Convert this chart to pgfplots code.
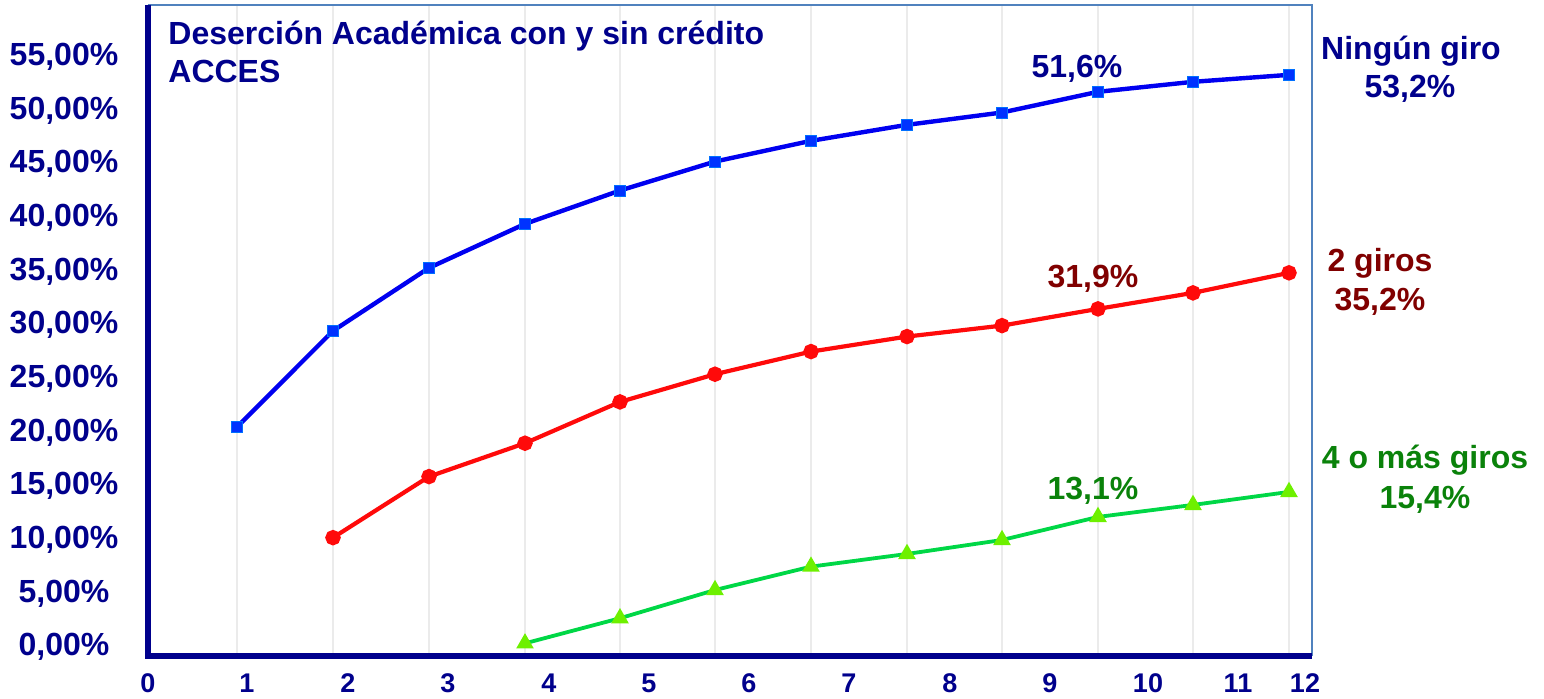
\documentclass[border=0pt]{standalone}
\usepackage{fontspec}
\setmainfont{Liberation Sans}
\usepackage{pgfplots}
\pgfplotsset{compat=1.18}
\definecolor{navytxt}{RGB}{0,0,140}
\definecolor{darkredtxt}{RGB}{128,0,0}
\definecolor{greentxt}{RGB}{10,130,10}
\definecolor{lineblue}{RGB}{0,0,240}
\definecolor{markblue}{RGB}{0,50,255}
\definecolor{linered}{RGB}{255,10,10}
\definecolor{linegreen}{RGB}{0,215,70}
\definecolor{markgreen}{RGB}{110,240,0}
\definecolor{framec}{RGB}{80,130,190}
\definecolor{gridc}{RGB}{235,235,235}

\pgfplotstableread{
x y
0.89 20.51
1.85 29.46
2.81 35.33
3.77 39.43
4.72 42.54
5.67 45.24
6.63 47.17
7.59 48.66
8.54 49.81
9.50 51.74
10.45 52.67
11.41 53.32
}\ningun

\pgfplotstableread{
x y
1.85 10.19
2.81 15.88
3.77 18.99
4.72 22.84
5.67 25.42
6.63 27.53
7.59 28.93
8.54 29.95
9.50 31.51
10.45 33.00
11.41 34.87
}\dosgiros

\pgfplotstableread{
x y
3.77 0.34
4.72 2.68
5.67 5.31
6.63 7.49
7.59 8.67
8.54 9.97
9.50 12.12
10.45 13.24
11.41 14.45
}\cuatrogiros

\begin{document}
\begin{tikzpicture}
\begin{axis}[
  scale only axis, width=582pt, height=325.5pt,
  xmin=0, xmax=11.64, ymin=-0.84, ymax=59.83,
  axis line style={draw=none},
  clip=false,
  xtick={0,0.99,2,3,4.01,5.01,6.01,7.01,8.02,9.02,10,10.9,11.57},
  xticklabels={0,1,2,3,4,5,6,7,8,9,10,11,12},
  ytick={0,5,10,15,20,25,30,35,40,45,50,55},
  yticklabels={{0,00\%},{5,00\%},{10,00\%},{15,00\%},{20,00\%},{25,00\%},{30,00\%},{35,00\%},{40,00\%},{45,00\%},{50,00\%},{55,00\%}},
  major tick length=0pt,
  yticklabel style={font=\fontsize{16pt}{19pt}\selectfont\bfseries, text=navytxt, anchor=center, xshift=-42pt},
  xticklabel style={font=\fontsize{13.5pt}{16pt}\selectfont\bfseries, text=navytxt, yshift=-5.5pt},
  extra x ticks={0.89,1.85,2.81,3.77,4.72,5.67,6.63,7.59,8.54,9.50,10.45,11.41},
  extra x tick labels={},
  extra x tick style={grid=major, major grid style={draw=gridc, line width=1.2pt}, major tick length=0pt},
]
\addplot[lineblue, line width=2.2pt, mark=square*, mark size=2.8pt, mark options={fill=markblue, draw=markblue!70!cyan, line width=0.4pt}] table[x=x,y=y] {\ningun};
\addplot[linered, line width=2.1pt, mark=*, mark size=2.8pt, mark options={fill=linered, draw=linered}] table[x=x,y=y] {\dosgiros};
\addplot[linegreen, line width=1.9pt, mark=triangle*, mark size=3.2pt, mark options={fill=markgreen, draw=markgreen}] table[x=x,y=y] {\cuatrogiros};

\draw[framec, line width=0.8pt] (rel axis cs:0,1) -- (rel axis cs:1,1) -- (rel axis cs:1,0);
\draw[navytxt, line width=2.6pt] (rel axis cs:0,1) -- (rel axis cs:0,0) -- (rel axis cs:1,0);

\begin{scope}[every node/.style={font=\fontsize{16pt}{19pt}\selectfont\bfseries, inner sep=0pt}]
\node[anchor=base west, text=navytxt] at (axis cs:0.2,56.12) {Deserción Académica con y sin crédito};
\node[anchor=base west, text=navytxt] at (axis cs:0.2,52.58) {ACCES};
\node[anchor=base, text=navytxt] at (axis cs:9.29,53.04) {51,6\%};
\node[anchor=base, text=navytxt] at (axis cs:12.63,54.72) {Ningún giro};
\node[anchor=base, text=navytxt] at (axis cs:12.62,51.17) {53,2\%};
\node[anchor=base, text=darkredtxt] at (axis cs:9.45,33.47) {31,9\%};
\node[anchor=base, text=darkredtxt] at (axis cs:12.32,34.96) {2 giros};
\node[anchor=base, text=darkredtxt] at (axis cs:12.32,31.33) {35,2\%};
\node[anchor=base, text=greentxt] at (axis cs:9.45,13.79) {13,1\%};
\node[anchor=base, text=greentxt] at (axis cs:12.77,16.59) {4 o más giros};
\node[anchor=base, text=greentxt] at (axis cs:12.77,12.95) {15,4\%};
\end{scope}
\end{axis}
\pgfresetboundingbox
\path[use as bounding box] ([shift={(-74pt,-21pt)}]current axis.south west) rectangle ([shift={(698pt,328pt)}]current axis.south west);
\end{tikzpicture}
\end{document}
